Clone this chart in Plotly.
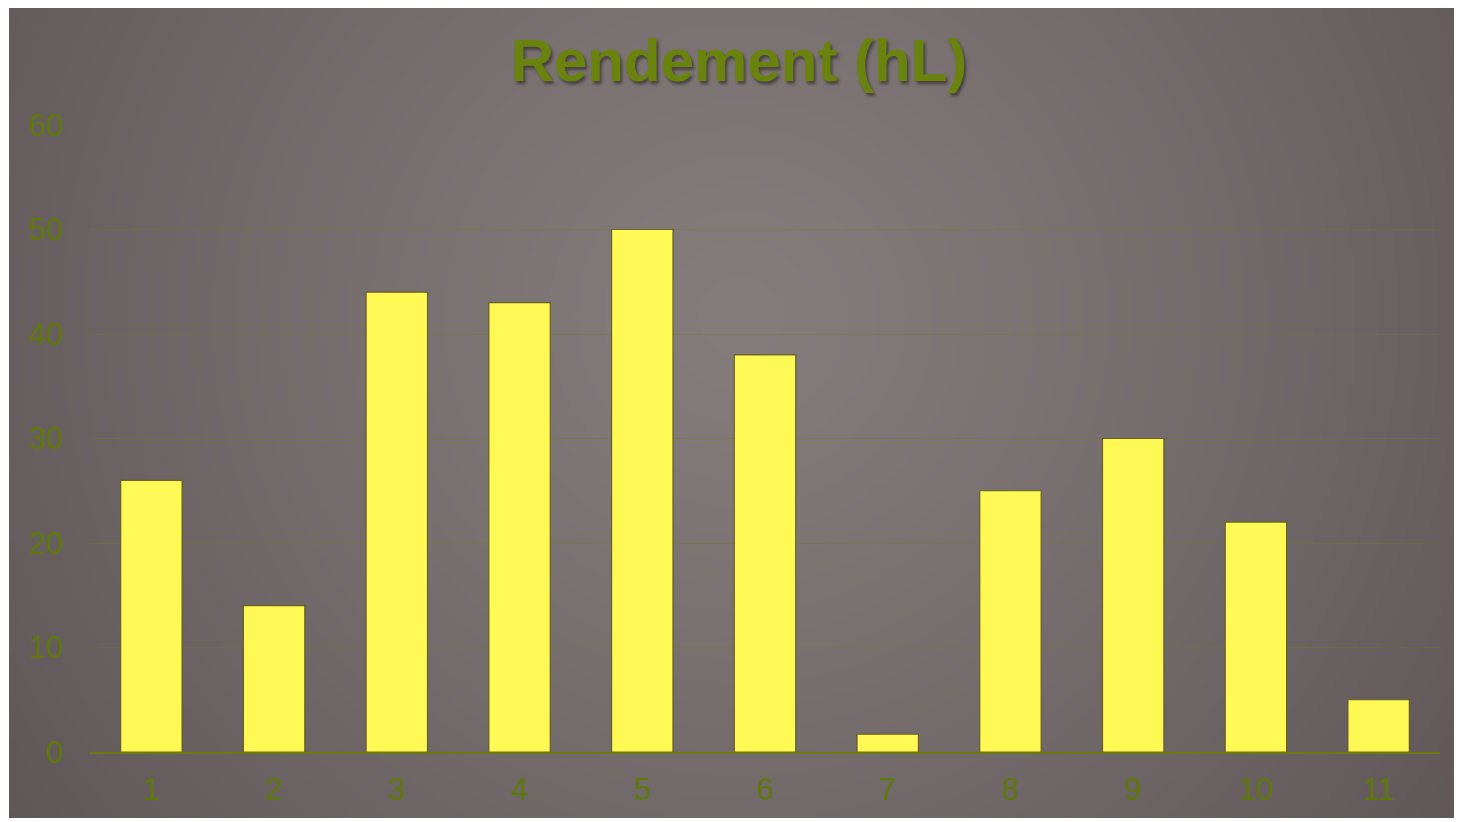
import base64, struct, zlib
import numpy as np
import plotly.graph_objects as go

categories = ["1", "2", "3", "4", "5", "6", "7", "8", "9", "10", "11"]
rendement = [26, 14, 44, 43, 50, 38, 1.7, 25, 30, 22, 5]
y_ticks = [0, 10, 20, 30, 40, 50, 60]
title_text = "Rendement (hL)"

W, H = 1462, 822
OFF = 8  # page body margin offset
ML, MR, MT, MB = 90 - OFF, W - 1440 + OFF, 125 - OFF, H - 752 + OFF


def png_uri(arr):
    h, w, _ = arr.shape
    raw = b"".join(b"\x00" + arr[i].tobytes() for i in range(h))

    def chunk(tag, data):
        return (struct.pack(">I", len(data)) + tag + data
                + struct.pack(">I", zlib.crc32(tag + data) & 0xFFFFFFFF))

    png = (b"\x89PNG\r\n\x1a\n"
           + chunk(b"IHDR", struct.pack(">IIBBBBB", w, h, 8, 2, 0, 0, 0))
           + chunk(b"IDAT", zlib.compress(raw, 9))
           + chunk(b"IEND", b""))
    return "data:image/png;base64," + base64.b64encode(png).decode()


# radial gradient background
gw, gh = 363, 203
yy, xx = np.mgrid[0:gh, 0:gw]
cx, cy = 0.50 * gw, 0.38 * gh
d = np.sqrt(((xx - cx) / (0.62 * gw)) ** 2 + ((yy - cy) / (0.62 * gw)) ** 2)
d = np.clip(d, 0, 1)
inner = np.array([0x85, 0x7d, 0x7c], dtype=float)
outer = np.array([0x5f, 0x57, 0x57], dtype=float)
img = inner[None, None, :] * (1 - d[..., None] ** 1.2) + outer[None, None, :] * (d[..., None] ** 1.2)
img = np.clip(img, 0, 255).astype(np.uint8)
bg_uri = png_uri(img)

pw, ph = W - ML - MR, H - MT - MB
# background box in figure pixels
bx0, bx1, by0, by1 = 9 - OFF, 1460, 0, 818 - OFF

olive_tick = "#5f780a"
olive_title = "#6a830c"

fig = go.Figure()
fig.add_trace(go.Bar(
    x=categories, y=rendement,
    marker=dict(color="#fff955", line=dict(color="rgba(95,85,25,0.85)", width=1.2)),
    hoverinfo="x+y",
))

fig.update_layout(
    width=W, height=H,
    margin=dict(l=ML, r=MR, t=MT, b=MB),
    paper_bgcolor="white",
    plot_bgcolor="rgba(0,0,0,0)",
    bargap=0.5,
    showlegend=False,
    font=dict(family="Liberation Sans, Arial, sans-serif", color=olive_tick),
    title=dict(
        text=title_text,
        x=(739 - OFF) / W, xanchor="center",
        y=1 - (60 - OFF) / H, yanchor="middle",
        font=dict(size=60, color=olive_title, weight="bold",
                  shadow="2px 3px 3px rgba(40,35,35,0.6)"),
    ),
    images=[dict(
        source=bg_uri, xref="paper", yref="paper",
        x=(bx0 - ML) / pw, y=(H - MB - by0) / ph,
        sizex=(bx1 - bx0) / pw, sizey=(by1 - by0) / ph,
        sizing="stretch", xanchor="left", yanchor="top", layer="below",
    )],
    xaxis=dict(
        type="category",
        showline=True, linecolor="#6a7a10", linewidth=2,
        showgrid=False, ticks="",
        tickfont=dict(size=31, color=olive_tick),
        ticklabelstandoff=9,
    ),
    yaxis=dict(
        range=[0, 60], tickvals=y_ticks,
        showgrid=True, gridcolor="rgba(110,125,30,0.35)", gridwidth=1,
        zeroline=False, showline=False, ticks="",
        tickfont=dict(size=31, color=olive_tick),
        ticklabelstandoff=26,
    ),
)

fig.write_html("out.html")
